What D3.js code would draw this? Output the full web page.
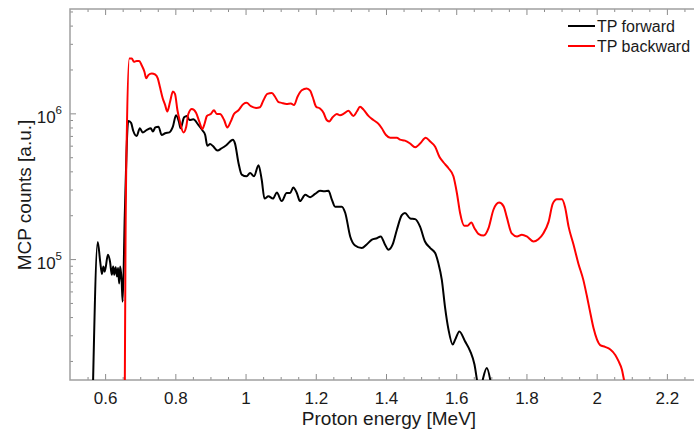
<!DOCTYPE html>
<html>
<head>
<meta charset="utf-8">
<script src="https://cdn.jsdelivr.net/npm/d3@7"></script>
<style>
  html, body { margin: 0; padding: 0; background: #fff; }
  svg { display: block; font-family: "Liberation Sans", Arial, Helvetica, sans-serif; }
</style>
</head>
<body>
<script>
// ---------------- data ----------------
const fwdEnergy = [0.565,0.579,0.586,0.591,0.595,0.599,0.608,0.614,0.619,0.623,0.626,0.630,0.634,0.637,0.640,0.643,0.647,0.650,0.656,0.666,
  0.674,0.680,0.690,0.699,0.707,0.719,0.730,0.736,0.743,0.752,0.761,0.771,0.783,0.793,0.802,0.810,0.815,0.825,0.833,0.840,
  0.851,0.866,0.878,0.885,0.891,0.899,0.907,0.920,0.932,0.946,0.964,0.970,0.980,0.989,1.003,1.013,1.024,1.037,1.046,1.054,
  1.065,1.078,1.089,1.103,1.117,1.127,1.136,1.146,1.155,1.170,1.184,1.198,1.212,1.224,1.236,1.246,1.255,1.274,1.284,1.298,
  1.312,1.331,1.345,1.360,1.374,1.385,1.397,1.407,1.419,1.431,1.445,1.454,1.469,1.483,1.497,1.511,1.526,1.540,1.549,1.559,
  1.568,1.578,1.590,1.597,1.609,1.625,1.640,1.652,1.662,1.668,1.676,1.687,1.697,1.705];
const fwdCounts = [1.2e4,1.31e5,9.6e4,7.9e4,8.9e4,8.2e4,1.07e5,9.6e4,7.8e4,8.9e4,7.8e4,8.8e4,7.6e4,8.7e4,6.8e4,8.9e4,7.2e4,5.1e4,2.0e5,8.85e5,
  8.6e5,7.6e5,7.0e5,7.9e5,7.4e5,7.7e5,7.9e5,7.5e5,8.0e5,8.1e5,7.1e5,7.3e5,7.4e5,8.1e5,9.7e5,8.8e5,7.9e5,9.4e5,9.6e5,9.0e5,
  9.1e5,8.3e5,7.6e5,7.1e5,6.0e5,6.15e5,5.97e5,5.55e5,5.76e5,6.07e5,6.6e5,6.2e5,4.55e5,3.8e5,3.7e5,3.9e5,3.7e5,4.4e5,3.5e5,2.6e5,
  2.7e5,2.6e5,2.86e5,2.5e5,2.84e5,2.84e5,3.1e5,2.84e5,2.5e5,2.76e5,2.66e5,2.8e5,2.94e5,2.92e5,2.94e5,2.55e5,2.29e5,2.29e5,2.07e5,1.43e5,
  1.24e5,1.19e5,1.26e5,1.36e5,1.39e5,1.43e5,1.26e5,1.16e5,1.26e5,1.59e5,2.0e5,2.07e5,1.9e5,1.88e5,1.67e5,1.32e5,1.19e5,1.1e5,9.4e4,7.2e4,
  4.7e4,3.28e4,2.59e4,2.8e4,3.19e4,2.73e4,2.33e4,1.89e4,1.35e4,1.2e4,1.5e4,1.79e4,1.48e4,1.1e4];

const bwdEnergy = [0.656,0.658,0.662,0.669,0.676,0.682,0.690,0.697,0.704,0.712,0.717,0.723,0.733,0.742,0.750,0.756,0.764,0.771,0.777,0.785,
  0.793,0.799,0.806,0.813,0.823,0.831,0.837,0.847,0.859,0.868,0.877,0.883,0.890,0.901,0.910,0.918,0.927,0.939,0.948,0.958,
  0.967,0.980,0.994,1.003,1.015,1.030,1.041,1.051,1.062,1.075,1.084,1.093,1.103,1.117,1.129,1.138,1.148,1.160,1.174,1.184,
  1.191,1.201,1.212,1.222,1.231,1.238,1.248,1.260,1.269,1.281,1.293,1.307,1.317,1.326,1.336,1.350,1.364,1.378,1.388,1.400,
  1.412,1.431,1.440,1.454,1.469,1.483,1.497,1.513,1.526,1.540,1.552,1.564,1.578,1.592,1.602,1.611,1.623,1.632,1.643,1.652,
  1.663,1.678,1.692,1.706,1.722,1.735,1.744,1.758,1.773,1.787,1.801,1.820,1.834,1.848,1.863,1.875,1.887,1.901,1.910,1.920,
  1.934,1.948,1.962,1.972,1.980,1.991,2.001,2.010,2.024,2.039,2.053,2.062,2.072,2.078,2.087];
const bwdCounts = [1.2e4,1.16e5,7.7e5,2.38e6,2.38e6,2.26e6,2.29e6,2.29e6,2.14e6,1.93e6,1.74e6,1.83e6,1.88e6,1.85e6,1.74e6,1.52e6,1.27e6,1.14e6,1.03e6,1.2e6,
  1.41e6,1.36e6,1.05e6,8.8e5,7.4e5,8.1e5,9.9e5,1.07e6,1.01e6,8.8e5,7.8e5,8.45e5,9.6e5,9.9e5,1.05e6,9.9e5,9.9e5,9.0e5,8.0e5,8.8e5,
  9.9e5,1.05e6,1.16e6,1.18e6,1.12e6,1.09e6,1.1e6,1.23e6,1.36e6,1.38e6,1.3e6,1.2e6,1.18e6,1.16e6,1.17e6,1.14e6,1.3e6,1.44e6,1.48e6,1.43e6,
  1.3e6,1.11e6,1.08e6,1.01e6,9.0e5,8.8e5,9.4e5,9.9e5,9.7e5,1.0e6,1.04e6,9.6e5,1.03e6,1.11e6,1.06e6,9.6e5,9.0e5,8.5e5,7.9e5,7.1e5,
  6.8e5,6.8e5,6.6e5,6.5e5,6.2e5,5.85e5,6.2e5,6.8e5,6.4e5,5.9e5,5.04e5,4.6e5,4.2e5,3.7e5,2.83e5,2.07e5,1.69e5,1.69e5,1.78e5,1.63e5,
  1.49e5,1.45e5,1.63e5,2.18e5,2.44e5,2.3e5,1.94e5,1.5e5,1.43e5,1.47e5,1.43e5,1.32e5,1.37e5,1.5e5,1.8e5,2.4e5,2.57e5,2.57e5,2.27e5,1.67e5,
  1.26e5,9.3e4,7.2e4,5.6e4,4.5e4,3.36e4,2.8e4,2.57e4,2.5e4,2.4e4,2.2e4,2.0e4,1.74e4,1.48e4,1.2e4];

const seriesNames = ["TP forward", "TP backward"];
const seriesColors = ["#000000", "#ff0000"];

const xMajorTicks = [0.6,0.8,1.0,1.2,1.4,1.6,1.8,2.0,2.2];
const xTickLabels = ["0.6","0.8","1","1.2","1.4","1.6","1.8","2","2.2"];
const xMinorTicks = [0.55,0.65,0.7,0.75,0.85,0.9,0.95,1.05,1.1,1.15,1.25,1.3,1.35,1.45,1.5,1.55,1.65,1.7,1.75,1.85,1.9,1.95,2.05,2.1,2.15,2.25];
const yMajorTicks = [1e5, 1e6];
const yTickExponents = ["5", "6"];
const yMinorTicks = [2e4,3e4,4e4,5e4,6e4,7e4,8e4,9e4,2e5,3e5,4e5,5e5,6e5,7e5,8e5,9e5,2e6,3e6,4e6,5e6];

const xTitle = "Proton energy [MeV]";
const yTitle = "MCP counts [a.u.]";

// ---------------- layout ----------------
const W = 694, H = 436;
const L = 70, R = 702, T = 9, B = 380;

const svg = d3.select("body").append("svg").attr("width", W).attr("height", H);

const x = d3.scaleLinear().domain([0.5, 2.3]).range([L, R]);
const y = d3.scaleLog().domain([1.48e4, 5.2e6]).range([B, T]);

const tickColor = "#8c8c8c";
const frameColor = "#a0a0a0";
const textColor = "#1a1a1a";

function styleAxis(g) {
  g.select(".domain").remove();
  g.selectAll(".tick line").attr("stroke", tickColor).attr("stroke-width", 1);
}

// bottom axis
svg.append("g").attr("transform", `translate(0,${B})`)
  .call(d3.axisBottom(x).tickValues(xMinorTicks).tickSize(-3).tickFormat(""))
  .call(styleAxis);
svg.append("g").attr("transform", `translate(0,${B})`)
  .call(d3.axisBottom(x).tickValues(xMajorTicks).tickSize(-6).tickPadding(11.5)
        .tickFormat((d, i) => xTickLabels[i]))
  .call(styleAxis)
  .call(g => g.selectAll("text").attr("font-size", 17).attr("fill", textColor)
                .attr("font-family", "'Liberation Sans', Arial, sans-serif"));

// top axis
svg.append("g").attr("transform", `translate(0,${T})`)
  .call(d3.axisTop(x).tickValues(xMinorTicks).tickSize(-3).tickFormat(""))
  .call(styleAxis);
svg.append("g").attr("transform", `translate(0,${T})`)
  .call(d3.axisTop(x).tickValues(xMajorTicks).tickSize(-6).tickFormat(""))
  .call(styleAxis);

// left axis
svg.append("g").attr("transform", `translate(${L},0)`)
  .call(d3.axisLeft(y).tickValues(yMinorTicks).tickSize(-3).tickFormat(""))
  .call(styleAxis);
const yMajG = svg.append("g").attr("transform", `translate(${L},0)`)
  .call(d3.axisLeft(y).tickValues(yMajorTicks).tickSize(-6).tickFormat(""))
  .call(styleAxis);

yMajG.selectAll(".tick").each(function(d, i) {
  const t = d3.select(this).append("text")
    .attr("x", -8).attr("y", 9.5)
    .attr("text-anchor", "end")
    .attr("fill", textColor)
    .attr("font-size", 17)
    .attr("font-family", "'Liberation Sans', Arial, sans-serif");
  t.append("tspan").text("10");
  t.append("tspan").attr("dy", -9.5).attr("font-size", 11.5).text(yTickExponents[i]);
});

// frame (right side lies outside the window)
svg.append("path")
  .attr("d", `M${R},${T}H${L}V${B}H${R}`)
  .attr("fill", "none").attr("stroke", frameColor).attr("stroke-width", 1.5);

// clip
svg.append("clipPath").attr("id", "plotclip")
  .append("rect").attr("x", L).attr("y", T).attr("width", R - L).attr("height", B - T);

const line = d3.line()
  .x(d => x(d[0])).y(d => y(d[1]))
  .curve(d3.curveMonotoneX);

const series = [
  d3.zip(fwdEnergy, fwdCounts),
  d3.zip(bwdEnergy, bwdCounts)
];

const plot = svg.append("g").attr("clip-path", "url(#plotclip)");
series.forEach((s, i) => {
  plot.append("path")
    .datum(s)
    .attr("d", line)
    .attr("fill", "none")
    .attr("stroke", seriesColors[i])
    .attr("stroke-width", 2)
    .attr("stroke-linejoin", "round");
});

// legend
const leg = svg.append("g");
seriesNames.forEach((n, i) => {
  const yy = 26 + i * 20;
  leg.append("line").attr("x1", 568).attr("x2", 595).attr("y1", yy).attr("y2", yy)
    .attr("stroke", seriesColors[i]).attr("stroke-width", 2);
  leg.append("text").attr("x", 597).attr("y", yy + 5.8)
    .attr("font-size", 16).attr("fill", textColor).text(n);
});

// axis titles
svg.append("text")
  .attr("x", 389).attr("y", 425)
  .attr("text-anchor", "middle")
  .attr("font-size", 19).attr("fill", textColor)
  .text(xTitle);

svg.append("text")
  .attr("transform", "translate(31,195) rotate(-90)")
  .attr("text-anchor", "middle")
  .attr("font-size", 19).attr("fill", textColor)
  .text(yTitle);
</script>
</body>
</html>
